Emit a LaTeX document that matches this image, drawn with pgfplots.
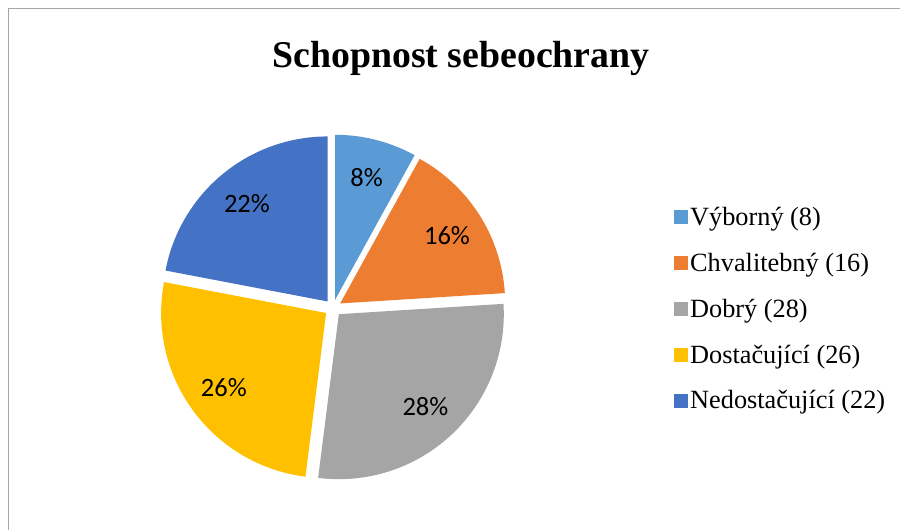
\documentclass[border=0pt]{standalone}
\usepackage{pgfplots}
\pgfplotsset{compat=1.18}
\usepackage{pgfplotstable}
\usetikzlibrary{calc}
\usepackage{fontspec}
\setmainfont{Liberation Serif}
\newfontfamily\labelfont{Carlito}
\definecolor{c0}{HTML}{5B9BD5}
\definecolor{c1}{HTML}{ED7D31}
\definecolor{c2}{HTML}{A5A5A5}
\definecolor{c3}{HTML}{FFC000}
\definecolor{c4}{HTML}{4472C4}
\definecolor{framegray}{HTML}{A6A6A6}

\pgfplotstableread{
idx value
0 8
1 16
2 28
3 26
4 22
}\piedata

% total
\gdef\total{0}
\foreach \i in {0,...,4}{%
  \pgfplotstablegetelem{\i}{value}\of\piedata
  \pgfmathsetmacro\t{\total+\pgfplotsretval}%
  \xdef\total{\t}%
}
% angles (clockwise from 12 o'clock)
\gdef\cumsum{0}
\foreach \i in {0,...,4}{%
  \pgfplotstablegetelem{\i}{value}\of\piedata
  \pgfmathsetmacro\val{\pgfplotsretval}%
  \pgfmathsetmacro\sa{90-(360/\total)*\cumsum}%
  \pgfmathsetmacro\ea{90-(360/\total)*(\cumsum+\val)}%
  \pgfmathsetmacro\md{(\sa+\ea)/2}%
  \pgfmathtruncatemacro\pc{round((100/\total)*\val)}%
  \expandafter\xdef\csname sa\i\endcsname{\sa}%
  \expandafter\xdef\csname ea\i\endcsname{\ea}%
  \expandafter\xdef\csname md\i\endcsname{\md}%
  \expandafter\xdef\csname pc\i\endcsname{\pc}%
  \pgfmathsetmacro\nc{\cumsum+\val}%
  \xdef\cumsum{\nc}%
}

\pgfplotsset{
  legend image code/.code={\fill[#1, draw=none] (-3bp,-7bp) rectangle (11bp,7bp);},
}

\begin{document}
\begin{tikzpicture}
\begin{axis}[
  width=900bp, height=530bp, scale only axis,
  xmin=0, xmax=900, ymin=0, ymax=530,
  axis lines=none, clip=false,
  legend style={at={(axis cs:674,221)}, anchor=west, draw=none, fill=none,
    inner sep=0pt, font=\fontsize{26.3bp}{31bp}\selectfont,
    row sep=22bp, cells={anchor=west}},
]
% frame
\draw[framegray, line width=1bp] (axis cs:8,0) -- (axis cs:8,521) -- (axis cs:900,521);
% title
\node[font=\bfseries\fontsize{37.8bp}{44bp}\selectfont, anchor=base] at (axis cs:461,462) {Schopnost sebeochrany};
% slices
\pgfplotsinvokeforeach{0,...,4}{
  \fill[c#1] ($(axis cs:333,222)+(\csname md#1\endcsname:8.5bp)$) -- ++(\csname sa#1\endcsname:165bp)
     arc[start angle=\csname sa#1\endcsname, end angle=\csname ea#1\endcsname, radius=165bp] -- cycle;
  \node[font=\labelfont\fontsize{26.5bp}{30bp}\selectfont] at ($(axis cs:333,222)+(\csname md#1\endcsname:135bp)$) {\csname pc#1\endcsname\%};
}
\addlegendimage{fill=c0}\addlegendentry{Výborný (8)}
\addlegendimage{fill=c1}\addlegendentry{Chvalitebný (16)}
\addlegendimage{fill=c2}\addlegendentry{Dobrý (28)}
\addlegendimage{fill=c3}\addlegendentry{Dostačující (26)}
\addlegendimage{fill=c4}\addlegendentry{Nedostačující (22)}
\end{axis}
\pgfresetboundingbox
\useasboundingbox (0,0) rectangle (900bp,530bp);
\end{tikzpicture}
\end{document}
